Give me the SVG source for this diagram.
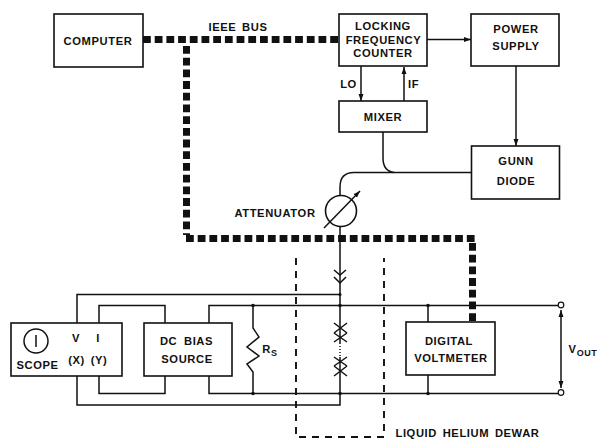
<svg xmlns="http://www.w3.org/2000/svg" width="597" height="439" viewBox="0 0 597 439">
<style>
.b{fill:#fff;stroke:#111;stroke-width:1.6}
.l{fill:none;stroke:#111;stroke-width:1.5}
.bus{fill:none;stroke:#111;stroke-width:7;stroke-dasharray:7.8 3.9}
.d{fill:none;stroke:#111;stroke-width:1.9;stroke-dasharray:7 6}
.h{fill:#111}
text{font-family:"Liberation Sans",Arial,sans-serif;font-weight:700;font-size:11.2px;fill:#111;text-anchor:middle;letter-spacing:.6px}
</style>
<defs>
<marker id="a" markerWidth="8" markerHeight="6" refX="7" refY="3" orient="auto" markerUnits="userSpaceOnUse"><path d="M0 0.5L7 3L0 5.5z" fill="#111"/></marker>
<marker id="s" markerWidth="8" markerHeight="6" refX="1" refY="3" orient="auto" markerUnits="userSpaceOnUse"><path d="M8 0.5L1 3L8 5.5z" fill="#111"/></marker>
</defs>
<rect width="597" height="439" fill="#fff"/>
<g id="connectors">
<path class="bus" d="M143 39.500H339"/>
<path class="bus" d="M186.500 46V235"/>
<path class="bus" d="M186 238.500H476"/>
<path class="bus" d="M472.500 243V322"/>
<path class="l" d="M427 39.500H471" marker-end="url(#a)"/>
<path class="l" d="M516 66V146" marker-end="url(#a)"/>
<path class="l" d="M361 66V101" marker-end="url(#a)"/>
<path class="l" d="M404 101V67" marker-end="url(#a)"/>
<path class="l" d="M383 132V158Q383 171 394 172.500"/>
<path class="l" d="M471 172.500H354Q340 172.500 340 187V196"/>
<path class="l" d="M340 226V294"/>
<path class="l" d="M334 270L340 275L346 270M334 277L340 283L346 277" stroke-width="2"/>
<path class="l" d="M77 323V294.500H340V343M340 357V405H77V376"/>
<path class="l" d="M340 343V357" stroke-width="1" stroke-dasharray="1 2"/>
<path class="l" d="M99 323V305.500H165V323"/>
<path class="l" d="M99 376V393.500H165V376"/>
<path class="l" d="M209 323V305.500H558"/>
<path class="l" d="M209 376V393.500H558"/>
<path class="l" d="M253 305.500V328L259 337L247 347L259 356L247 364L253 372V393.500"/>
<path class="l" d="M428 305.500V322M428 375V393.500"/>
<path class="l" d="M334 323L347 333M347 323L334 333M334 333L347 342M347 333L334 342M334 357L347 366M347 357L334 366M334 366L347 376M347 366L334 376" stroke-width="1.800"/>
<path class="l" d="M561 310V388" marker-end="url(#a)" marker-start="url(#s)" stroke-width="1.200"/>
<path class="d" d="M296 258V437H384V258"/>
<circle class="h" cx="340" cy="294.500" r="1.500"/><circle class="h" cx="340" cy="305.500" r="1.800"/><circle class="h" cx="253" cy="305.500" r="1.800"/><circle class="h" cx="428" cy="305.500" r="1.800"/><circle class="h" cx="340" cy="393.500" r="1.800"/><circle class="h" cx="253" cy="393.500" r="1.800"/><circle class="h" cx="428" cy="393.500" r="1.800"/>
<circle cx="561" cy="305" r="2.800" fill="#fff" stroke="#111" stroke-width="1.200"/>
<circle cx="561" cy="392.500" r="2.800" fill="#fff" stroke="#111" stroke-width="1.200"/>
</g>
<g id="computer"><rect class="b" x="54" y="14" width="89" height="53"/><text x="98" y="44.500">COMPUTER</text></g>
<g id="counter"><rect class="b" x="339" y="14" width="88" height="52"/><text x="383" y="30">LOCKING</text><text x="383.500" y="43.500">FREQUENCY</text><text x="383" y="56.700">COUNTER</text></g>
<g id="power"><rect class="b" x="471" y="14" width="88" height="52"/><text x="516" y="33">POWER</text><text x="516" y="50">SUPPLY</text></g>
<g id="mixer"><rect class="b" x="339" y="101" width="88" height="31"/><text x="383" y="120.500">MIXER</text></g>
<g id="gunn"><rect class="b" x="471.500" y="146" width="88" height="53"/><text x="516" y="165">GUNN</text><text x="516" y="185">DIODE</text></g>
<g id="attenuator"><circle cx="341" cy="211" r="15.500" fill="#fff" stroke="#111" stroke-width="1.600"/><path class="l" d="M324 228L360 191" marker-end="url(#a)"/><text x="275" y="217">ATTENUATOR</text></g>
<g id="scope"><rect class="b" x="11" y="323" width="111" height="53"/><circle cx="36" cy="341" r="12" fill="none" stroke="#111" stroke-width="1.500"/><path class="l" d="M36 335V347" stroke-width="1.800"/><text x="37.500" y="369">SCOPE</text><text x="76" y="342">V</text><text x="98" y="342">I</text><text x="76.500" y="364">(X)</text><text x="99" y="364">(Y)</text></g>
<g id="bias"><rect class="b" x="144" y="323" width="88" height="53"/><text x="186.500" y="345" word-spacing="3">DC BIAS</text><text x="187" y="362.500">SOURCE</text></g>
<g id="voltmeter"><rect class="b" x="406" y="322" width="89" height="53"/><text x="449" y="344.500">DIGITAL</text><text x="451" y="362">VOLTMETER</text></g>
<g id="labels">
<text x="238" y="31" word-spacing="2">IEEE BUS</text>
<text x="348.500" y="88">LO</text>
<text x="413.500" y="88">IF</text>
<text x="270" y="353" font-size="12">R<tspan font-size="9" dy="3">S</tspan></text>
<text x="583" y="353" font-size="11">V<tspan font-size="9" dy="3">OUT</tspan></text>
<text x="467.500" y="437" word-spacing="2">LIQUID HELIUM DEWAR</text>
</g>
</svg>
